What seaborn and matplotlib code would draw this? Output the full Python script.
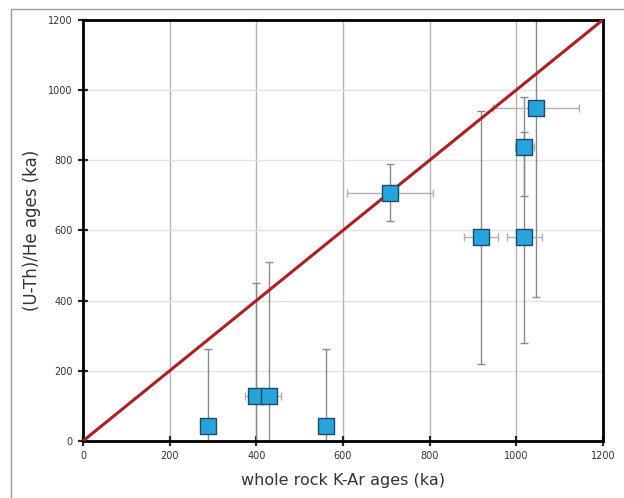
import numpy as np
import pandas as pd
import matplotlib
matplotlib.use("Agg")
import matplotlib.pyplot as plt
import seaborn as sns
from matplotlib.patches import Rectangle

# K-Ar vs (U-Th)/He ages (ka)
kar_age = [289, 400, 429, 560, 709, 919, 1019, 1019, 1046]
uthhe_age = [43, 128, 128, 43, 708, 580, 580, 839, 950]
kar_err = [0, 26, 28, 0, 100, 40, 40, 22, 100]
uthhe_err = [220, 321, 381, 220, 80, 360, 300, 140, 540]
line_x = [0, 1200]
line_y = [0, 1200]

df = pd.DataFrame({"kar": kar_age, "uthhe": uthhe_age})

sns.set_style("white")
fig = plt.figure(figsize=(6.24, 4.98), dpi=100)
ax = fig.add_axes([0.133, 0.1145, 0.833, 0.8455])

ax.set_xlim(0, 1200)
ax.set_ylim(0, 1200)
ticks = [0, 200, 400, 600, 800, 1000, 1200]
ax.set_xticks(ticks)
ax.set_yticks(ticks)
for t in ticks[1:]:
    ax.axvline(t, color="#b5b5b5", lw=1.0, zorder=0)
    ax.axhline(t, color="#e2e2e2", lw=1.0, zorder=0)

# error bars
ax.errorbar(kar_age, uthhe_age, yerr=uthhe_err, fmt="none", ecolor="#8a8a8a",
            elinewidth=1.0, capsize=3, capthick=1.0, zorder=2)
ax.errorbar(kar_age, uthhe_age, xerr=kar_err, fmt="none", ecolor="#b0b0b0",
            elinewidth=1.0, capsize=3, capthick=1.0, zorder=2)

sns.lineplot(x=line_x, y=line_y, ax=ax, color="#b01e23", lw=2.2, zorder=3)
sns.scatterplot(data=df, x="kar", y="uthhe", ax=ax, marker="s", s=125,
                color="#27a4dc", edgecolor="#1d4a66", linewidth=1.0, zorder=4)

for s in ax.spines.values():
    s.set_color("black")
    s.set_linewidth(2.0)

ax.tick_params(direction="inout", length=7, width=1.6, labelsize=7,
               labelcolor="#333333", pad=4, bottom=True, left=True)
ax.set_xlabel("whole rock K-Ar ages (ka)", fontsize=11.5, color="#333333", labelpad=8)
ax.set_ylabel("(U-Th)/He ages (ka)", fontsize=12, color="#333333", labelpad=5)

fig.patches.append(Rectangle((0.017, -0.01), 0.99, 0.992, transform=fig.transFigure,
                             fill=False, edgecolor="#9a9a9a", lw=1.0))

fig.savefig("out.png", dpi=100)
